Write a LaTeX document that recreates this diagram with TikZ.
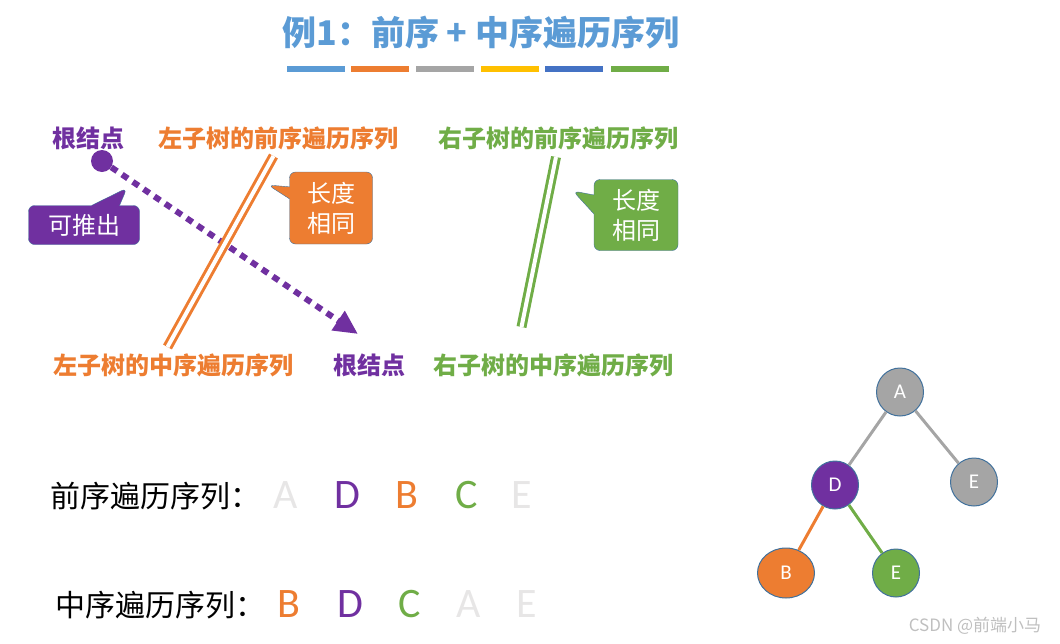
\documentclass[tikz,border=0pt]{standalone}
\usepackage{fontspec}
\setmainfont{Noto Sans CJK SC}
\newfontfamily\latinfont{Carlito}
\usetikzlibrary{arrows.meta,positioning,shapes.geometric,shapes.callouts}

\definecolor{titleblue}{HTML}{5B9BD5}
\definecolor{orng}{HTML}{ED7D31}
\definecolor{grey}{HTML}{A5A5A5}
\definecolor{gold}{HTML}{FFC000}
\definecolor{navy}{HTML}{4472C4}
\definecolor{grn}{HTML}{70AD47}
\definecolor{purp}{HTML}{7030A0}
\definecolor{edgeblue}{HTML}{41719C}
\definecolor{faint}{HTML}{E7E6E6}

\begin{document}
\begin{tikzpicture}[x=1pt, y=-1pt,
  title/.style={font=\fontsize{34}{38}\selectfont\bfseries, text=titleblue},
  bar/.style={fill=#1, minimum width=58pt, minimum height=6pt, inner sep=0pt},
  lbl/.style={font=\fontsize{24}{28}\selectfont\bfseries, text=#1, inner sep=0pt},
  bubble/.style={rectangle callout, rounded corners=6pt, draw=edgeblue, fill=#1, text=white, font=\fontsize{24}{30}\selectfont, align=center, inner sep=0pt},
  twin/.style={draw=#1, line width=3pt, double=white, double distance=4pt},
  dotarrow/.style={draw=purp, line width=6pt, dash pattern=on 7pt off 6pt, -{Triangle[length=24pt,width=22pt]}},
  tnode/.style={ellipse, draw=edgeblue, line width=1pt, fill=#1, text=white, font=\latinfont\fontsize{21}{24}\selectfont, minimum width=47pt, minimum height=48pt, inner sep=0pt},
  tedge/.style={draw=#1, line width=3pt},
  seq/.style={font=\fontsize{30}{34}\selectfont, anchor=west, inner sep=0pt},
  letter/.style={font=\latinfont\fontsize{42}{46}\selectfont, text=#1, inner sep=0pt}
]
\useasboundingbox (0,0) rectangle (1060,643);

% title and colour bars
\node[title] (head) at (481,33) {例1：前序 + 中序遍历序列};
\node[bar=titleblue] (b1) at (316,69) {};
\node[bar=orng] (b2) at (380,69) {};
\node[bar=grey] (b3) at (445,69) {};
\node[bar=gold] (b4) at (510,69) {};
\node[bar=navy] (b5) at (574,69) {};
\node[bar=grn] (b6) at (640,69) {};

% labels
\node[lbl=purp] (rootpre) at (88,138) {根结点};
\node[lbl=orng] (leftpre) at (278,138) {左子树的前序遍历序列};
\node[lbl=grn] (rightpre) at (558,138) {右子树的前序遍历序列};
\node[lbl=orng] (leftin) at (173,365) {左子树的中序遍历序列};
\node[lbl=purp] (rootin) at (369,365) {根结点};
\node[lbl=grn] (rightin) at (553,365) {右子树的中序遍历序列};

% root dot and dotted arrow
\node[circle, fill=purp, minimum size=22pt, inner sep=0pt] (rootdot) at (102,161) {};
\coordinate (rootend) at (358,334);
\draw[dotarrow] (rootdot) -- (rootend);

% double lines
\coordinate (ltop) at (273.5,156);
\coordinate (lbot) at (167.5,347);
\coordinate (rtop) at (556,157);
\coordinate (rbot) at (521.5,327);
\draw[twin=orng] (ltop) -- (lbot);
\draw[twin=grn] (rtop) -- (rbot);

% callouts
\node[bubble=purp, minimum width=111pt, minimum height=39pt,
  callout absolute pointer={(127,188)}, callout pointer width=28pt] (infer) at (84,225) {可推出};
\node[bubble=orng, minimum width=83pt, minimum height=72pt,
  callout absolute pointer={(268,185)}, callout pointer width=12pt] (sameL) at (331,208) {长度\\相同};
\node[bubble=grn, minimum width=84pt, minimum height=71pt,
  callout absolute pointer={(573,191)}, callout pointer width=19pt] (sameR) at (636,215) {长度\\相同};

% tree
\node[tnode=grey] (A) at (900,392) {A};
\node[tnode=purp] (D) at (835,485) {D};
\node[tnode=grey] (E1) at (974,482) {E};
\node[tnode=orng, minimum width=57pt, minimum height=50pt] (B) at (786,573) {B};
\node[tnode=grn] (E2) at (896,573) {E};
\draw[tedge=grey] (A) -- (D);
\draw[tedge=grey] (A) -- (E1);
\draw[tedge=orng] (D) -- (B);
\draw[tedge=grn] (D) -- (E2);

% sequences
\node[seq] (pretext) at (50,496) {前序遍历序列：};
\node[letter=faint] (p1) at (286,495) {A};
\node[letter=purp] (p2) at (347,495) {D};
\node[letter=orng] (p3) at (407,495) {B};
\node[letter=grn] (p4) at (467,495) {C};
\node[letter=faint] (p5) at (522,495) {E};

\node[seq] (intext) at (55,605) {中序遍历序列：};
\node[letter=orng] (i1) at (289,604) {B};
\node[letter=purp] (i2) at (350,604) {D};
\node[letter=grn] (i3) at (410,604) {C};
\node[letter=faint] (i4) at (469,604) {A};
\node[letter=faint] (i5) at (527,604) {E};

\node[font=\fontsize{17}{20}\selectfont, text=black!25] (mark) at (975,626) {CSDN @前端小马};
\end{tikzpicture}
\end{document}
